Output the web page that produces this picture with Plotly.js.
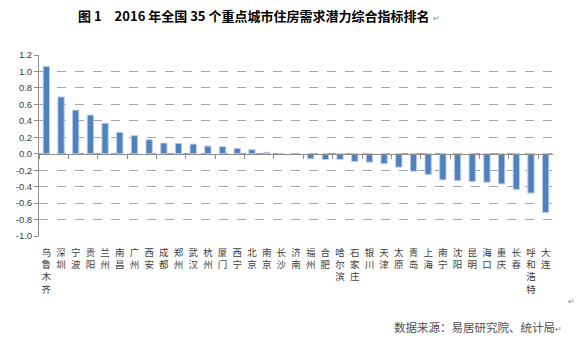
<!DOCTYPE html>
<html><head><meta charset="utf-8">
<script src="https://cdn.plot.ly/plotly-3.0.1.min.js"></script>
<style>html,body{margin:0;padding:0;background:#fff}#chart{width:583px;height:353px}</style>
</head><body><div id="chart"></div>
<script>
const cities = ["乌鲁木齐","深圳","宁波","贵阳","兰州","南昌","广州","西安","成都","郑州","武汉","杭州","厦门","西宁","北京","南京","长沙","济南","福州","合肥","哈尔滨","石家庄","银川","天津","太原","青岛","上海","南宁","沈阳","昆明","海口","重庆","长春","呼和浩特","大连"];
const values = [1.06,0.69,0.53,0.47,0.37,0.26,0.22,0.17,0.13,0.125,0.117,0.093,0.085,0.065,0.049,0.017,0.004,-0.01,-0.061,-0.069,-0.069,-0.094,-0.102,-0.122,-0.163,-0.212,-0.253,-0.318,-0.327,-0.339,-0.347,-0.367,-0.433,-0.478,-0.714];
const yTicks = [1.2,1.0,0.8,0.6,0.4,0.2,0.0,-0.2,-0.4,-0.6,-0.8,-1.0];
const titleText = "图 1　2016 年全国 35 个重点城市住房需求潜力综合指标排名";
const sourceText = "数据来源：易居研究院、统计局";

const yMin = -1.0, yMax = 1.2;
const stacked = cities.map(c => c.split("").join("<br>"));

const traces = [
  {type:"bar", x:cities, y:values, xaxis:"x", yaxis:"y",
   marker:{color:"#4f81bd", line:{color:"#b9cde5", width:1}}, hoverinfo:"skip"},
  {type:"scatter", mode:"markers", x:cities, y:cities.map(()=>0), xaxis:"x2", yaxis:"y",
   marker:{opacity:0, size:1}, hoverinfo:"skip", showlegend:false}
];

const layout = {
  width:583, height:353,
  margin:{l:39, r:30, t:55, b:117},
  paper_bgcolor:"#fff", plot_bgcolor:"#fff",
  showlegend:false, bargap:0.57,
  font:{family:"Noto Sans CJK SC, Liberation Sans, sans-serif", color:"#404040"},
  xaxis:{type:"category", range:[-0.5, cities.length-0.5], tickmode:"array",
         tickvals:cities, ticktext:stacked, ticks:"", showline:false, showgrid:false,
         zeroline:false, tickangle:0, ticklabelstandoff:9,
         tickfont:{family:"Noto Sans CJK SC", size:9.5, color:"#404040"}},
  xaxis2:{type:"category", overlaying:"x", anchor:"free", position:(0-yMin)/(yMax-yMin),
          range:[-0.5, cities.length-0.5], showticklabels:false, showline:true,
          linecolor:"#8c8c8c", linewidth:1, ticks:"outside", tickson:"boundaries",
          ticklen:4, tickcolor:"#8c8c8c", showgrid:false, zeroline:false},
  yaxis:{range:[yMin, yMax], tickmode:"array", tickvals:yTicks,
         ticktext:yTicks.map(v=>v.toFixed(1)), showline:true, linecolor:"#8c8c8c",
         ticks:"outside", ticklen:4, tickcolor:"#8c8c8c",
         showgrid:true, gridcolor:"#a6a6a6", griddash:"dash", gridwidth:1,
         zeroline:false,
         tickfont:{family:"Liberation Sans, Arial, sans-serif", size:9.5, color:"#404040"}},
  annotations:[
    {text:"<b>"+titleText+"</b>", xref:"paper", yref:"paper", x:(254-39)/514, y:1, yshift:40,
     xanchor:"center", yanchor:"middle", showarrow:false,
     font:{family:"Noto Sans CJK SC", size:13, color:"#000"}},
    {text:"↵", xref:"paper", yref:"paper", x:(431-39)/514, y:1, yshift:38,
     xanchor:"left", yanchor:"middle", showarrow:false, font:{size:8, color:"#888"}},
    {text:sourceText+"<span style='font-size:8px;color:#888'>↵</span>", xref:"paper", yref:"paper",
     x:(564-39)/514, y:0, yshift:-91, xanchor:"right", yanchor:"middle", showarrow:false,
     font:{family:"Noto Sans CJK SC", size:11.5, color:"#505050"}},
    {text:"↵", xref:"paper", yref:"paper", x:(566-39)/514, y:0, yshift:-64,
     xanchor:"left", yanchor:"middle", showarrow:false, font:{size:8, color:"#888"}}
  ]
};

Plotly.newPlot("chart", traces, layout, {staticPlot:true, displayModeBar:false});
</script></body></html>
